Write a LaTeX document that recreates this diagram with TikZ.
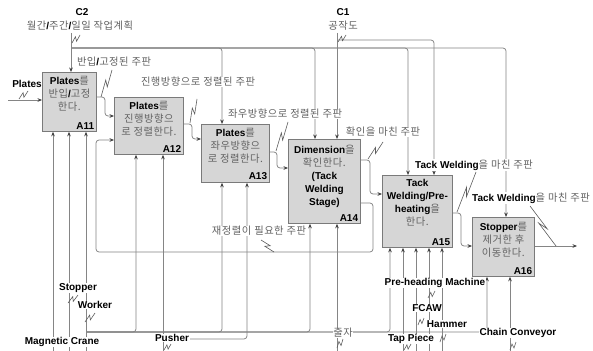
\documentclass[tikz,border=0pt]{standalone}
\usepackage{fontspec}
\setmainfont{Liberation Sans}
\newfontfamily\krfont[LetterSpace=5]{Noto Sans CJK KR}
\usetikzlibrary{arrows.meta,calc}
\definecolor{ln}{HTML}{858585}
\definecolor{krc}{HTML}{626262}
\definecolor{boxfill}{HTML}{D6D6D6}
\definecolor{boxline}{HTML}{7A7A7A}
\newcommand{\hgl}[1]{{\krfont\mdseries\fontsize{10.3}{13}\selectfont\color{krc}#1}}
\newcommand{\sq}[2]{\draw[sqs] #1 -- ($#1!0.6!#2!2pt!90:#2$) -- ($#1!0.4!#2!2pt!-90:#2$) -- #2;}
\begin{document}
\begin{tikzpicture}[x=1pt,y=-1pt,
  abox/.style={draw=boxline, fill=boxfill, line width=0.8pt, anchor=north west, inner sep=0pt},
  btxt/.style={anchor=north, align=center, inner sep=0pt, font=\bfseries\fontsize{10}{13}\selectfont},
  bid/.style={anchor=south east, inner sep=0pt, font=\bfseries\fontsize{10}{12}\selectfont},
  lbl/.style={fill=white, inner sep=0.6pt, font=\bfseries\fontsize{10}{12}\selectfont},
  flow/.style={draw=ln, line width=0.75pt, rounded corners=3pt, -{Stealth[length=4.5pt,width=3.6pt,color=black!75]}},
  sqs/.style={draw=ln!70!black, line width=0.6pt}]
\fill[white] (0,0) rectangle (593,350);
\useasboundingbox (0,0) rectangle (593,350);

% activity boxes
\node[abox, minimum width=54pt, minimum height=59pt] (A11) at (42,72) {};
\node[abox, minimum width=69pt, minimum height=57pt] (A12) at (114,97) {};
\node[abox, minimum width=68pt, minimum height=58pt] (A13) at (201,124) {};
\node[abox, minimum width=72pt, minimum height=84pt] (A14) at (288,139) {};
\node[abox, minimum width=70pt, minimum height=72pt] (A15) at (382,175) {};
\node[abox, minimum width=62pt, minimum height=59pt] (A16) at (472,217) {};

\node[btxt] (A11t) at ($(A11.north)+(0,4)$) {Plates\hgl{를}\\\hgl{반입}/\hgl{고정}\\\hgl{한다.}};
\node[btxt] (A12t) at ($(A12.north)+(0,4.5)$) {Plates\hgl{를}\\\hgl{진행방향으}\\\hgl{로 정렬한다.}};
\node[btxt] (A13t) at ($(A13.north)+(0,4.5)$) {Plates\hgl{를}\\\hgl{좌우방향으}\\\hgl{로 정렬한다.}};
\node[btxt] (A14t) at ($(A14.north)+(0,6)$) {Dimension\hgl{을}\\\hgl{확인한다.}\\(Tack\\Welding\\Stage)};
\node[btxt] (A15t) at ($(A15.north)+(0,4.5)$) {Tack\\Welding/Pre-\\heating\hgl{을}\\\hgl{한다.}};
\node[btxt] (A16t) at ($(A16.north)+(0,5)$) {Stopper\hgl{를}\\\hgl{제거한 후}\\\hgl{이동한다.}};

\node[bid] (A11n) at ($(A11.south east)+(-2.5,-2.5)$) {A11};
\node[bid] (A12n) at ($(A12.south east)+(-2.5,-2.5)$) {A12};
\node[bid] (A13n) at ($(A13.south east)+(-2.5,-2.5)$) {A13};
\node[bid] (A14n) at ($(A14.south east)+(-2.5,-2.5)$) {A14};
\node[bid] (A15n) at ($(A15.south east)+(-2.5,-2.5)$) {A15};
\node[bid] (A16n) at ($(A16.south east)+(-2.5,-2.5)$) {A16};

% free ends
\coordinate (c2top) at (71,33);
\coordinate (c2s) at (71,48);
\coordinate (c1top) at (337,33);
\coordinate (c1s) at (337,40);
\coordinate (pin) at (8,100);
\coordinate (out) at (577,246);
\coordinate (mMC) at (53,351);
\coordinate (mST) at (69,351);
\coordinate (mWK) at (86,351);
\coordinate (wk) at (86,332);
\coordinate (mPU) at (163,351);
\coordinate (pu) at (163,339);
\coordinate (mJJ) at (337,351);
\coordinate (mTP) at (403,351);
\coordinate (mFC) at (416,351);
\coordinate (mPH) at (429,351);
\coordinate (mHM) at (442,351);
\coordinate (mCC) at (510,351);

% controls
\draw[flow] (c2top) -- (A11.north -| c2top);
\draw[flow] (c2s) -| (A13.north -| 222,0);
\draw[flow] (c2s) -| (A14.north -| 315,0);
\draw[flow] (c2s) -| (A15.north -| 408,0);
\draw[flow] (c2s) -| (A16.north -| 506,0);
\draw[flow] (c1top) -- (A14.north -| c1top);
\draw[flow] (c1s) -| (A15.north -| 434,0);

% inputs / outputs
\draw[flow] (pin) -- (A11.west |- pin);
\draw[flow] (A11.east |- 0,97) -- (105,97) -- (105,116) -- (A12.west |- 0,116);
\draw[flow] (A12.east |- 0,124) -- (192,124) -- (192,139) -- (A13.west |- 0,139);
\draw[flow] (A13.east |- 0,152) -- (277,152) -- (277,168) -- (A14.west |- 0,168);
\draw[flow] (A14.east |- 0,160) -- (370,160) -- (370,194) -- (A15.west |- 0,194);
\draw[flow] (A15.east |- 0,213) -- (461,213) -- (461,246) -- (A16.west |- 0,246);
\draw[flow] (A16.east |- out) -- (out);
\draw[flow] (A14.east |- 0,203) -- (373,203) -- (373,252) -- (96,252) -- (96,140) -- (A12.west |- 0,140);

% mechanisms
\draw[flow] (mMC) -- (A11.south -| mMC);
\draw[flow] (mST) -- (A11.south -| mST);
\draw[flow] (mWK) -- (A11.south -| mWK);
\draw[flow] (wk) -| (A12.south -| 136,0);
\draw[flow] (wk) -| (A13.south -| 222,0);
\draw[flow] (wk) -| (A14.south -| 310,0);
\draw[flow] (wk) -| (A15.south -| 390,0);
\draw[flow] (wk) -| (A16.south -| 487,0);
\draw[flow] (mPU) -- (A12.south -| mPU);
\draw[flow] (pu) -| (A13.south -| 247,0);
\draw[flow] (mJJ) -- (A14.south -| mJJ);
\draw[flow] (mTP) -- (A15.south -| mTP);
\draw[flow] (mFC) -- (A15.south -| mFC);
\draw[flow] (mPH) -- (A15.south -| mPH);
\draw[flow] (mHM) -- (A15.south -| mHM);
\draw[flow] (mCC) -- (A16.south -| mCC);

% labels
\node[inner sep=0pt, font=\bfseries\fontsize{10}{12}\selectfont] (C2) at (82,12) {C2};
\node[lbl] (C2l) at (80,26) {\hgl{월간}/\hgl{주간}/\hgl{일일 작업계획}};
\node[inner sep=0pt, font=\bfseries\fontsize{10}{12}\selectfont] (C1) at (343,12) {C1};
\node[lbl] (C1l) at (343,26) {\hgl{공작도}};
\node[lbl] (Lpl) at (27,84) {Plates};
\node[lbl] (L1) at (114,62) {\hgl{반입}/\hgl{고정된 주판}};
\node[lbl] (L2) at (198,82) {\hgl{진행방향으로 정렬된 주판}};
\node[lbl] (L3) at (285,114) {\hgl{좌우방향으로 정렬된 주판}};
\node[lbl] (L4) at (383,132) {\hgl{확인을 마친 주판}};
\node[lbl] (L5) at (474,165) {Tack Welding\hgl{을 마친 주판}};
\node[lbl] (L6) at (531,198) {Tack Welding\hgl{을 마친 주판}};
\node[lbl] (L7) at (259,231) {\hgl{재정렬이 필요한 주판}};
\node[lbl] (Lmc) at (62,342) {Magnetic Crane};
\node[lbl] (Lst) at (78,288) {Stopper};
\node[lbl] (Lwk) at (95,305) {Worker};
\node[lbl] (Lpu) at (172,338) {Pusher};
\node[lbl] (Ljj) at (343,333) {\hgl{줄자}};
\node[lbl] (Ltp) at (411,339) {Tap Piece};
\node[lbl] (Lfc) at (427,308) {FCAW};
\node[lbl] (Lph) at (435,283) {Pre-heading Machine};
\node[lbl] (Lhm) at (447,324) {Hammer};
\node[lbl] (Lcc) at (518,333) {Chain Conveyor};

% squiggles
\sq{(19,99)}{(28,91)}
\sq{(72,43)}{(80,35)}
\sq{(338,42)}{(346,35)}
\sq{(112,70)}{(101,97)}
\sq{(197,99)}{(190,123)}
\sq{(288,122)}{(276,151)}
\sq{(383,142)}{(368,159)}
\sq{(476,172)}{(457,212)}
\sq{(530,206)}{(556,246)}
\sq{(261,240)}{(274,252)}
\sq{(68,303)}{(78,295)}
\sq{(85,322)}{(95,313)}
\sq{(164,350)}{(171,344)}
\sq{(337,348)}{(343,339)}
\sq{(404,350)}{(411,344)}
\sq{(418,325)}{(424,318)}
\sq{(428,298)}{(435,291)}
\sq{(440,342)}{(446,334)}
\sq{(510,350)}{(516,342)}
\end{tikzpicture}
\end{document}
